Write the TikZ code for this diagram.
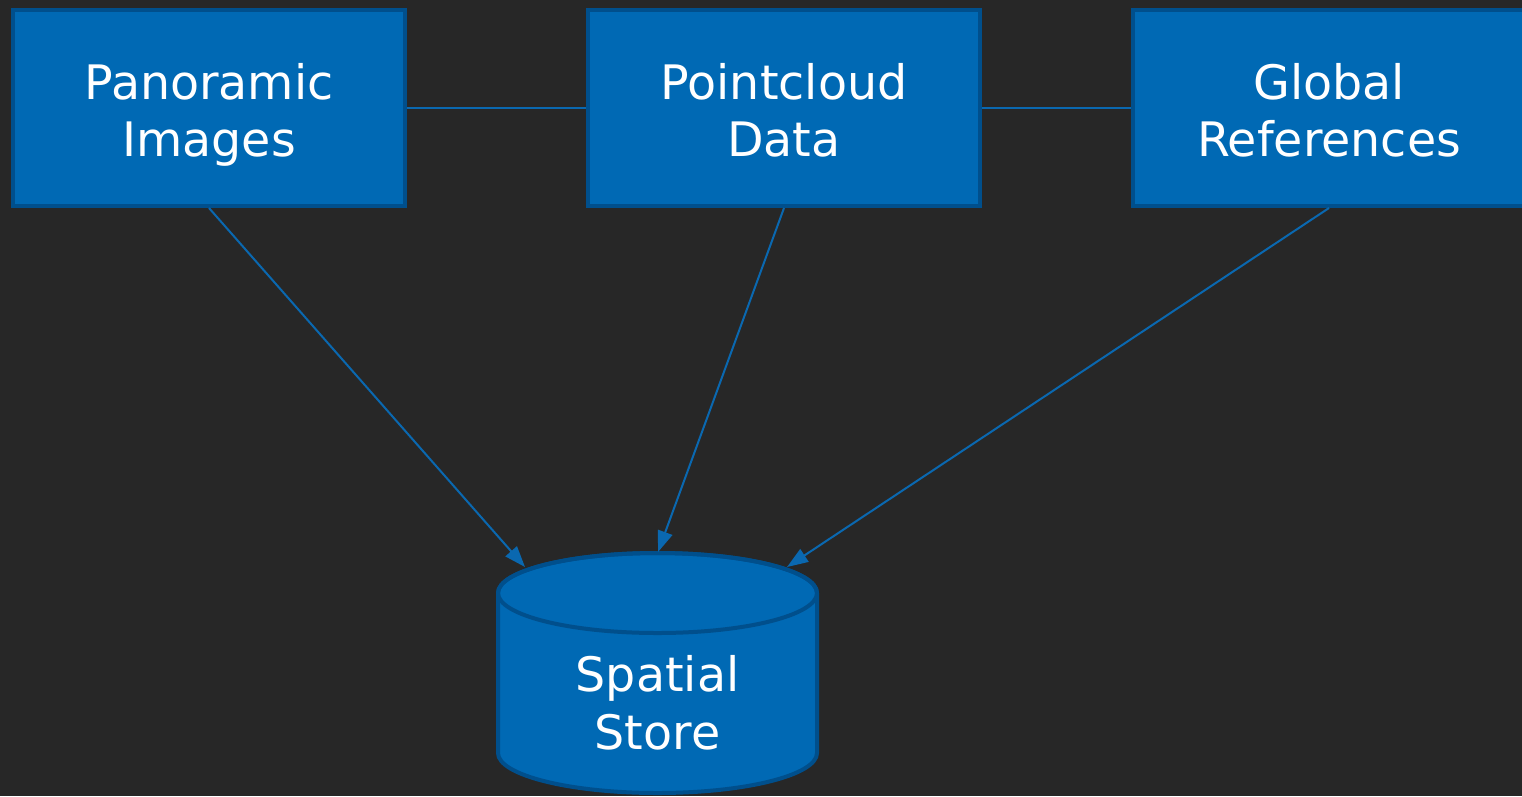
\documentclass[tikz,border=0pt]{standalone}
\usepackage{fontspec}
\setmainfont{DejaVu Sans}
\usetikzlibrary{arrows.meta}
\definecolor{bg}{HTML}{272727}
\definecolor{boxfill}{HTML}{0069B4}
\definecolor{boxline}{HTML}{004F8C}
\definecolor{conn}{HTML}{0A68B0}
\begin{document}
\begin{tikzpicture}[x=1pt,y=-1pt,
  box/.style={draw=boxline,fill=boxfill,line width=4pt,minimum width=392pt,minimum height=196pt,inner sep=0pt},
  label/.style={text=white,align=center,font=\fontsize{47.5}{57.5}\selectfont,inner sep=0pt},
  link/.style={draw=conn,line width=2pt},
  arrow/.style={link,-{Triangle[length=21pt,width=15pt]}}]
\fill[bg] (0,0) rectangle (1522,796);
\useasboundingbox (0,0) rectangle (1522,796);
\node[box] (pan) at (209,108) {};
\node[box] (pcd) at (784,108) {};
\node[box] (glo) at (1329,108) {};
\node[label] (panT) at (209,116.5) {Panoramic\strut\\Images\strut};
\node[label] (pcdT) at (784,116.5) {Pointcloud\strut\\Data\strut};
\node[label] (gloT) at (1329,116.5) {Global\strut\\References\strut};
% cylinder
\filldraw[draw=boxline,fill=boxfill,line width=4pt]
  (498,593) -- (498,753) arc[start angle=180,end angle=360,x radius=159.5pt,y radius=40pt] -- (817,593)
  arc[start angle=0,end angle=180,x radius=159.5pt,y radius=40pt] -- cycle;
\draw[boxline,line width=4pt] (657.5,593) ellipse[x radius=159.5pt,y radius=40pt];
\node[label] (store) at (657.5,709) {Spatial\strut\\Store\strut};
\coordinate (inA) at (525,567);
\coordinate (inB) at (658,552);
\coordinate (inC) at (787,567);
\draw[link] (pan.east) -- (pcd.west);
\draw[link] (pcd.east) -- (glo.west);
\draw[arrow] (pan.south) -- (inA);
\draw[arrow] (pcd.south) -- (inB);
\draw[arrow] (glo.south) -- (inC);
\end{tikzpicture}
\end{document}
